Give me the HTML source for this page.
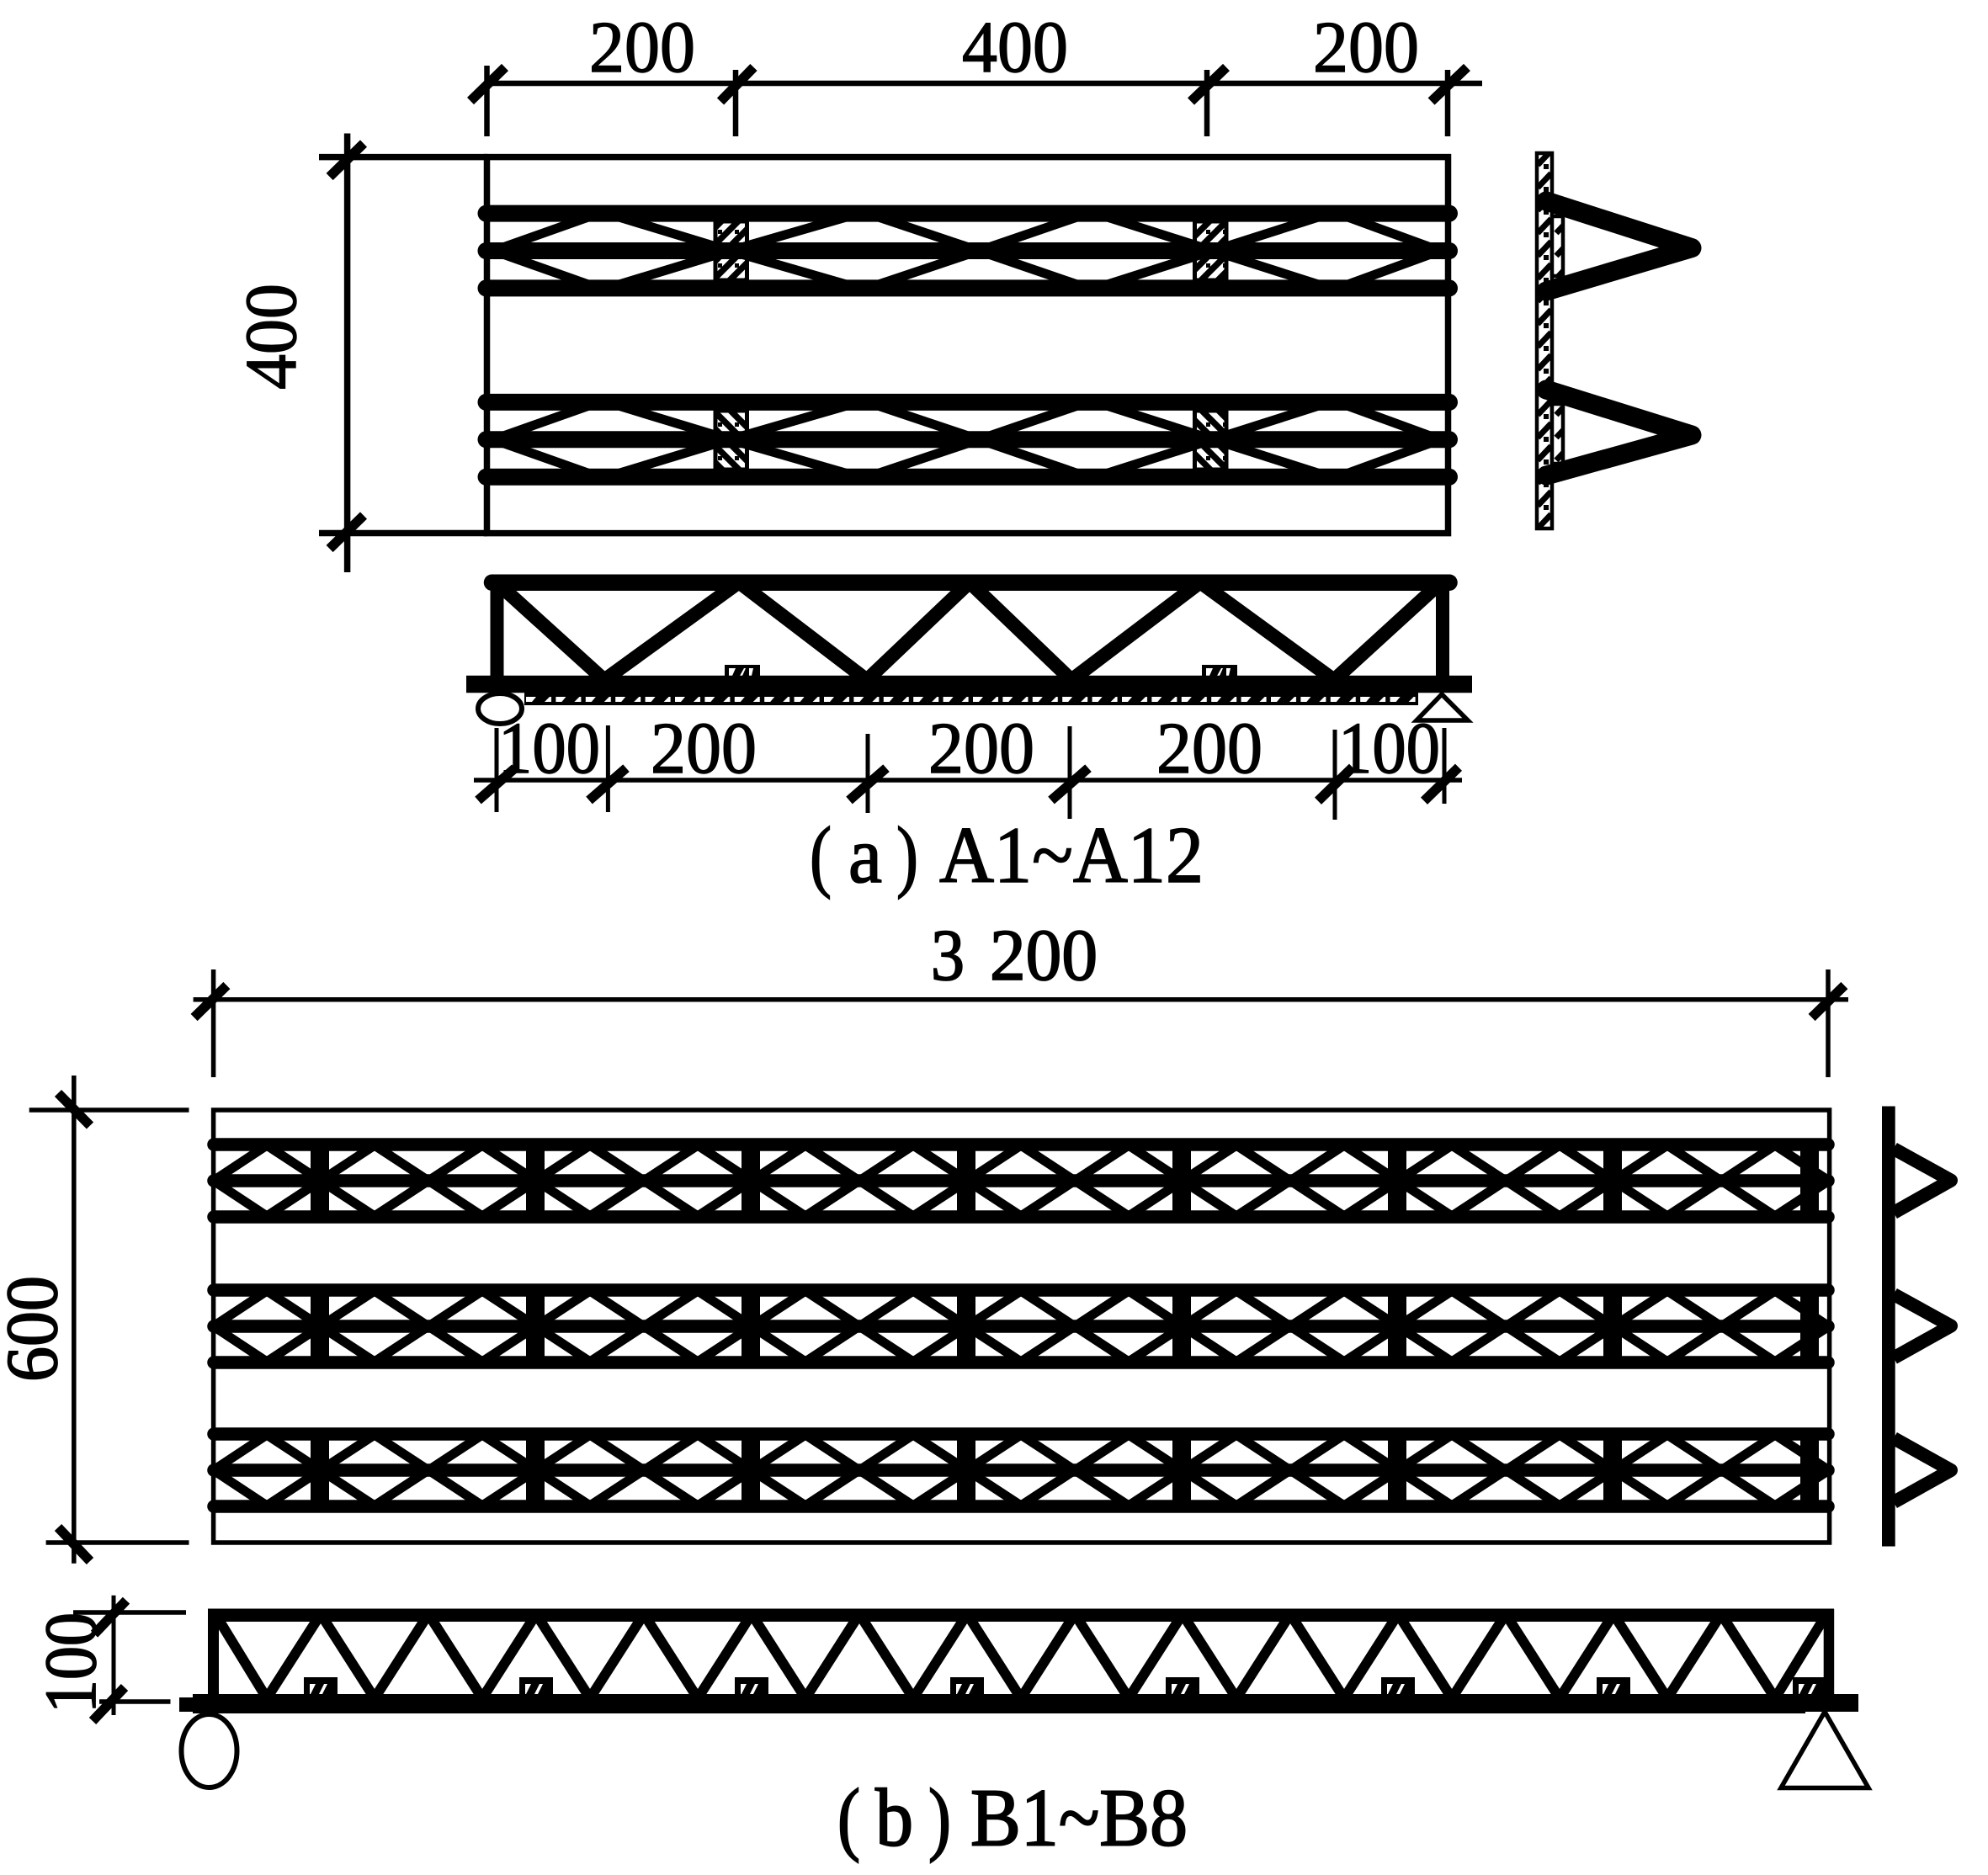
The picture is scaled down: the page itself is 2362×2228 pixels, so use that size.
<!DOCTYPE html>
<html><head><meta charset="utf-8"><style>
html,body{margin:0;padding:0;background:#fff}
svg{display:block}
text{font-family:"Liberation Serif","Noto Serif CJK SC",serif;fill:#000}
</style></head><body>
<svg xmlns="http://www.w3.org/2000/svg" width="2362" height="2228" viewBox="0 0 2362 2228">
<defs>
<pattern id="h1" patternUnits="userSpaceOnUse" width="20" height="20">
<rect width="20" height="20" fill="#fff"/>
<path d="M-5 5L5 -5M-5 25L25 -5M15 25L25 15" stroke="#000" stroke-width="7.5"/>
<rect x="13" y="13" width="5" height="5" fill="#000"/>
</pattern>
<pattern id="h2" patternUnits="userSpaceOnUse" width="20" height="20">
<rect width="20" height="20" fill="#fff"/>
<path d="M-5 15L5 25M-5 -5L25 25M15 -5L25 5" stroke="#000" stroke-width="7.5"/>
<rect x="13" y="2" width="5" height="5" fill="#000"/>
</pattern>
<pattern id="h3" patternUnits="userSpaceOnUse" width="22" height="27" x="1824" y="180">
<rect width="22" height="27" fill="#fff"/>
<path d="M3 16L19 -1M3 43L19 26" stroke="#000" stroke-width="7"/>
<rect x="10" y="15" width="6" height="6" fill="#000"/>
</pattern>
<pattern id="h4" patternUnits="userSpaceOnUse" width="35.4" height="15" x="623" y="823">
<rect width="35.4" height="15" fill="#000"/>
<path d="M2 5H14L9 11H2ZM24 11L30 5H32V11Z" fill="#fff"/>
</pattern>
<g id="pa">
<path d="M577.5 -44.4H1722M577.5 0H1722M577.5 44.4H1722" stroke="#000" stroke-width="20" stroke-linecap="round" fill="none"/>
<polyline points="586,0 716,-46 867,0 1026,-46 1163,0 1297,-46 1441,0 1585,-46 1711,0" fill="none" stroke="#000" stroke-width="11" stroke-linejoin="bevel"/>
<polyline points="586,0 716,46 867,0 1026,46 1163,0 1297,46 1441,0 1585,46 1711,0" fill="none" stroke="#000" stroke-width="11" stroke-linejoin="bevel"/>
</g>
<g id="pb">
<polyline points="253.5,0 317,-42 445,42 573,-42 701,42 829,-42 957,42 1085,-42 1213,42 1341,-42 1469,42 1597,-42 1725,42 1853,-42 1981,42 2109,-42 2173,0" fill="none" stroke="#000" stroke-width="11" stroke-linejoin="bevel"/>
<polyline points="253.5,0 317,42 445,-42 573,42 701,-42 829,42 957,-42 1085,42 1213,-42 1341,42 1469,-42 1597,42 1725,-42 1853,42 1981,-42 2109,42 2173,0" fill="none" stroke="#000" stroke-width="11" stroke-linejoin="bevel"/>
<path d="M254 -43H2172M254 0H2172M254 43H2172" stroke="#000" stroke-width="15.5" stroke-linecap="round" fill="none"/>
<path d="M380 -43V43M636 -43V43M892 -43V43M1148 -43V43M1404 -43V43M1660 -43V43M1916 -43V43M2150 -43V43" stroke="#000" stroke-width="22" fill="none"/>
</g>
<g id="bx">
<rect x="-20" y="-20" width="40" height="20" fill="#000"/>
<path d="M-13 -12H-6L-12 0H-13ZM4 -12H8L2 0H-2Z" fill="#fff"/>
</g>
<g id="bxa">
<rect x="-21" y="-13" width="42" height="13" fill="#000"/>
<path d="M-16 -9H-8L-12 0H-16ZM2 -9H4L0 0H-3ZM8 -9H13L11 0H8Z" fill="#fff"/>
</g>
</defs>
<rect width="2362" height="2228" fill="#fff"/>

<!-- (a) top dimensions -->
<g stroke="#000" fill="none">
<path d="M578.5 99H1761" stroke-width="6.5"/>
<path d="M578.5 78V162M874 83V162M1434 83V162M1720 83V162" stroke-width="6.5"/>
<path d="M559 120L600 80M856 120.5L895.5 80M1415 120.5L1457 80M1700.6 120.5L1743 80" stroke-width="11.5"/>
<!-- (a) plan frame -->
<rect x="578.5" y="186.6" width="1142" height="447" stroke-width="7.5"/>
<path d="M379 186.6H579M379 633.5H579" stroke-width="7.5"/>
<path d="M412.6 158.5V680" stroke-width="7.5"/>
<path d="M391.6 210L432 170.5M391.6 652L432 612.5" stroke-width="11.5"/>
</g>
<!-- hatch columns -->
<g stroke="#000" stroke-width="5">
<rect x="850" y="263" width="37.5" height="70" fill="url(#h1)"/>
<rect x="1419.5" y="263" width="37.5" height="70" fill="url(#h1)"/>
<rect x="850" y="488" width="37.5" height="70" fill="url(#h2)"/>
<rect x="1419.5" y="488" width="37.5" height="70" fill="url(#h2)"/>
</g>
<use href="#pa" transform="translate(0,298)"/>
<use href="#pa" transform="translate(0,522.3)"/>

<!-- (a) side view -->
<g stroke="#000" stroke-width="4.5">
<rect x="1826" y="182" width="18" height="446" fill="url(#h3)"/>
<rect x="1844" y="257" width="13" height="71" fill="url(#h3)"/>
<rect x="1844" y="480" width="13" height="71" fill="url(#h3)"/>
</g>
<g fill="none" stroke="#000" stroke-width="23" stroke-linecap="round" stroke-linejoin="round">
<polyline points="1837,239 2010,294.6 1837,346"/>
<polyline points="1837,463 2010,517 1837,565"/>
</g>

<!-- (a) elevation -->
<rect x="623" y="823" width="1062" height="15" fill="url(#h4)"/>
<use href="#bxa" transform="translate(882,803)"/>
<use href="#bxa" transform="translate(1449,803)"/>
<polygon points="1713,825 1744,856 1683,856" fill="#fff" stroke="#000" stroke-width="5.5"/>
<g fill="none" stroke="#000">
<polyline points="590,692 718,808 878,692 1030,808 1152,692 1273,808 1426,692 1585,808 1712,692" stroke-width="16.5" stroke-linejoin="bevel"/>
<path d="M590.5 692V810M1714 692V810" stroke-width="16"/>
<path d="M584.5 692.2H1722" stroke-width="19.5" stroke-linecap="round"/>
<path d="M554 813H1749" stroke-width="20.5"/>
<ellipse cx="594" cy="842" rx="26" ry="18" fill="#fff" stroke-width="6"/>
<path d="M563 927H1737" stroke-width="5.5"/>
<path d="M590 865V965M722.4 862V965M1031 872V966M1271 863V973M1586 867V974M1716 865V955" stroke-width="5"/>
<path d="M568 951L612 912.7M700 951L744 912.7M1009 951L1053 912.7M1249 951L1293 912.7M1566 951.7L1607 911.7M1692 951.7L1733 911.7" stroke-width="11.5"/>
</g>

<!-- (a) text -->
<g font-size="87" stroke="#000" stroke-width="1.4">
<text x="700" y="85" textLength="126" lengthAdjust="spacingAndGlyphs">200</text>
<text x="1143" y="85" textLength="126" lengthAdjust="spacingAndGlyphs">400</text>
<text x="1560" y="85" textLength="126" lengthAdjust="spacingAndGlyphs">200</text>
<text transform="translate(351,463) rotate(-90)" textLength="126" lengthAdjust="spacingAndGlyphs">400</text>
<text x="592" y="918" textLength="121" lengthAdjust="spacingAndGlyphs">100</text>
<text x="773" y="918" textLength="126" lengthAdjust="spacingAndGlyphs">200</text>
<text x="1103" y="918" textLength="126" lengthAdjust="spacingAndGlyphs">200</text>
<text x="1374" y="918" textLength="126" lengthAdjust="spacingAndGlyphs">200</text>
<text x="1590" y="918" textLength="121" lengthAdjust="spacingAndGlyphs">100</text>
</g>
<g font-size="95" stroke="#000" stroke-width="1.6">
<text x="962" y="1048" textLength="26" lengthAdjust="spacingAndGlyphs">(</text>
<text x="1008" y="1048" textLength="40" lengthAdjust="spacingAndGlyphs">a</text>
<text x="1065" y="1048" textLength="26" lengthAdjust="spacingAndGlyphs">)</text>
<text x="1116" y="1048" textLength="314" lengthAdjust="spacingAndGlyphs">A1~A12</text>
</g>

<!-- (b) dimensions -->
<g fill="none" stroke="#000">
<path d="M229.6 1187.7H2196" stroke-width="5.5"/>
<path d="M253.6 1152V1280M2172 1152V1280" stroke-width="5.5"/>
<path d="M230.6 1209L269.4 1171M2152.6 1209L2191.4 1171" stroke-width="11.5"/>
<rect x="253.6" y="1319" width="1920" height="514" stroke-width="5.5"/>
<path d="M34.7 1319H224.5M54.6 1833H224.5" stroke-width="5.5"/>
<path d="M87.8 1278V1857.7" stroke-width="5.5"/>
<path d="M69 1299L107 1337.5M69 1815L107 1855" stroke-width="11.5"/>
</g>
<use href="#pb" transform="translate(0,1403)"/>
<use href="#pb" transform="translate(0,1576)"/>
<use href="#pb" transform="translate(0,1747)"/>

<!-- (b) side view -->
<rect x="2236" y="1314.5" width="15.7" height="523" fill="#000"/>
<g fill="none" stroke="#000" stroke-width="16" stroke-linejoin="round">
<polyline points="2250,1365 2318,1402.6 2250,1441"/>
<polyline points="2250,1538 2318,1575.5 2250,1613.5"/>
<polyline points="2250,1709 2318,1747 2250,1785"/>
</g>

<!-- (b) elevation -->
<use href="#bx" transform="translate(381,2013)"/>
<use href="#bx" transform="translate(637,2013)"/>
<use href="#bx" transform="translate(893,2013)"/>
<use href="#bx" transform="translate(1149,2013)"/>
<use href="#bx" transform="translate(1405,2013)"/>
<use href="#bx" transform="translate(1661,2013)"/>
<use href="#bx" transform="translate(1917,2013)"/>
<use href="#bx" transform="translate(2150,2013)"/>
<polygon points="2168,2034 2220,2124.5 2116,2124.5" fill="#fff" stroke="#000" stroke-width="5.5"/>
<g fill="none" stroke="#000">
<polyline points="254,1915 317,2018 381,1918 445,2018 509,1918 573,2018 637,1918 701,2018 765,1918 829,2018 893,1918 957,2018 1021,1918 1085,2018 1149,1918 1213,2018 1277,1918 1341,2018 1405,1918 1469,2018 1533,1918 1597,2018 1661,1918 1725,2018 1789,1918 1853,2018 1917,1918 1981,2018 2045,1918 2109,2018 2172,1915" stroke-width="12" stroke-linejoin="bevel"/>
</g>
<rect x="247" y="1911.5" width="1932" height="15.5" fill="#000"/>
<rect x="247" y="1912" width="13" height="104" fill="#000"/>
<rect x="2166.7" y="1912" width="12.5" height="104" fill="#000"/>
<rect x="229" y="2013" width="1916" height="23" fill="#000"/>
<rect x="213" y="2017" width="1995" height="17" fill="#000"/>
<rect x="2145" y="2013" width="63" height="21" fill="#000"/>
<ellipse cx="248.5" cy="2080.5" rx="33" ry="43.5" fill="#fff" stroke="#000" stroke-width="6"/>
<g fill="none" stroke="#000">
<path d="M135 1895.7V2038" stroke-width="5"/>
<path d="M87 1916H221M118 2022H202.5" stroke-width="5.5"/>
<path d="M112 1941.7L150 1901.7M110 2045L148 2005" stroke-width="11.5"/>
</g>

<!-- (b) text -->
<g font-size="87" stroke="#000" stroke-width="1.8">
<text x="1106" y="1164" textLength="40" lengthAdjust="spacingAndGlyphs">3</text>
<text x="1176" y="1164" textLength="128" lengthAdjust="spacingAndGlyphs">200</text>
<text transform="translate(67,1642) rotate(-90)" textLength="126" lengthAdjust="spacingAndGlyphs">600</text>
<text transform="translate(113,2036) rotate(-90)" textLength="120" lengthAdjust="spacingAndGlyphs">100</text>
</g>
<g font-size="97" stroke="#000" stroke-width="2">
<text x="995" y="2192.7" textLength="27" lengthAdjust="spacingAndGlyphs">(</text>
<text x="1040" y="2192.7" textLength="45" lengthAdjust="spacingAndGlyphs">b</text>
<text x="1103" y="2192.7" textLength="27" lengthAdjust="spacingAndGlyphs">)</text>
<text x="1153" y="2192.7" textLength="258" lengthAdjust="spacingAndGlyphs">B1~B8</text>
</g>
</svg>
</body></html>
